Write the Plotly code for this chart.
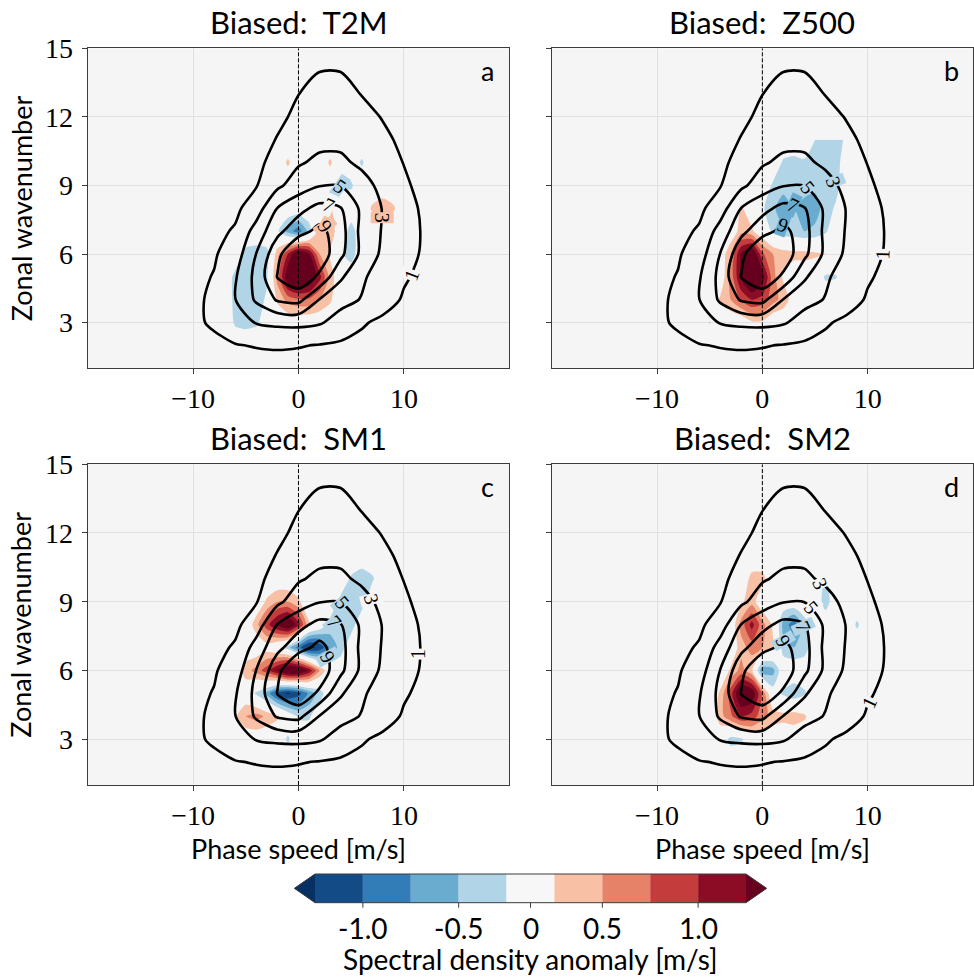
import math
import plotly.graph_objects as go

# ---------------- data ----------------
# climatological spectral density (black contours), rows = wavenumber 1..15
clim_phase_speed = [-14, -12, -10, -8, -6, -4, -2, 0, 2, 4, 6, 8, 10, 12, 14, 16]
clim_wavenumber = list(range(1, 16))
clim_density = [
    [0, 0, 0, 0.1, 0.2, 0.2, 0.2, 0.2, 0.2, 0.1, 0.1, 0, 0, 0, 0, 0],
    [0, 0, 0.2, 0.5, 0.9, 1.1, 1.2, 1.1, 0.9, 0.7, 0.5, 0.3, 0.2, 0.1, 0, 0],
    [0, 0.2, 0.6, 1.3, 2.2, 3.1, 3.4, 3.5, 3.2, 2.2, 1.2, 0.6, 0.3, 0.1, 0, 0],
    [0, 0.2, 0.45, 1.5, 2.95, 5.3, 7.2, 7.6, 4.9, 3.6, 2.9, 1.8, 0.8, 0.3, 0.1, 0],
    [0, 0.2, 0.5, 1.1, 2.8, 5.6, 9.1, 10.5, 8.6, 5.3, 3.3, 2.1, 1.2, 0.53, 0.2, 0],
    [0, 0.1, 0.4, 0.8, 2.0, 5.05, 8.4, 11.4, 10.3, 7.5, 4.5, 2.6, 1.6, 0.75, 0.3, 0.1],
    [0, 0.1, 0.2, 0.5, 1.2, 3.8, 6.5, 8.2, 9.6, 7.8, 4.4, 2.85, 1.7, 0.8, 0.3, 0.1],
    [0, 0, 0.1, 0.3, 0.6, 2.0, 5.05, 6.4, 7.6, 7.1, 4.6, 2.9, 1.8, 0.6, 0.2, 0],
    [0, 0, 0, 0.1, 0.2, 0.9, 2.6, 4.0, 4.9, 4.95, 3.8, 2.4, 1.3, 0.4, 0.1, 0],
    [0, 0, 0, 0, 0.1, 0.6, 1.6, 2.8, 3.4, 3.4, 2.6, 1.8, 0.95, 0.3, 0, 0],
    [0, 0, 0, 0, 0, 0.2, 1.1, 1.9, 2.5, 2.5, 2.0, 1.4, 0.6, 0.1, 0, 0],
    [0, 0, 0, 0, 0, 0, 0.6, 1.4, 1.9, 1.9, 1.6, 0.9, 0.3, 0, 0, 0],
    [0, 0, 0, 0, 0, 0, 0.3, 0.98, 1.5, 1.5, 0.95, 0.4, 0.1, 0, 0, 0],
    [0, 0, 0, 0, 0, 0, 0.1, 0.5, 0.98, 0.98, 0.6, 0.2, 0, 0, 0, 0],
    [0, 0, 0, 0, 0, 0, 0, 0.2, 0.4, 0.4, 0.3, 0.1, 0, 0, 0, 0],
]

# anomalies (filled contours), rows = wavenumber 2..11, columns = phase speed -8..10
anom_phase_speed = list(range(-8, 11))
anom_wavenumber = list(range(2, 12))

anom_t2m = [
    [0, 0, 0, 0, 0, 0, 0, 0, 0, 0, 0, 0, 0, 0, 0, 0, 0, 0, 0],
    [0, 0, -0.3, -0.35, -0.3, -0.1, 0, 0, 0, 0, 0, 0, 0, 0, 0, 0, 0, 0, 0],
    [0, 0, -0.35, -0.45, -0.4, -0.2, 0.3, 0.6, 0.7, 0.7, 0.5, 0.3, 0, 0, 0, 0, 0, 0, 0],
    [0, 0, -0.35, -0.4, -0.4, -0.3, 0.6, 1.5, 1.8, 1.6, 1.1, 0.4, 0, 0, 0, 0, 0, 0, 0],
    [0, 0, 0, -0.35, -0.4, -0.35, 0.4, 1.0, 1.6, 1.3, 0.5, 0.2, -0.2, -0.4, 0, 0, 0, 0, 0],
    [0, 0, 0, 0, 0, 0, -0.2, -0.6, -0.9, -0.4, 0.35, 0.45, 0, -0.4, 0, 0, 0, 0, 0],
    [0, 0, 0, 0, 0, 0, 0, 0, 0, 0, 0, 0.3, 0, 0, 0, 0.3, 0.45, 0.3, 0],
    [0, 0, 0, 0, 0, 0, 0, 0, 0, 0, 0, 0, -0.3, -0.3, 0, 0, 0, 0, 0],
    [0, 0, 0, 0, 0, 0, 0, 0.3, 0, 0, 0, 0.3, 0, 0, -0.3, 0, 0, 0, 0],
    [0, 0, 0, 0, 0, 0, 0, 0, 0, 0, 0, 0, 0, 0, 0, 0, 0, 0, 0],
]
anom_z500 = [
    [0, 0, 0, 0, 0, 0, 0, 0, 0, 0, 0, 0, 0, 0, 0, 0, 0, 0, 0],
    [0, 0, 0, -0.27, 0, 0, 0, 0.2, 0.2, 0, 0, 0, 0, 0, 0, 0, 0, 0, 0],
    [0, 0, 0, 0, 0.3, 0.5, 0.8, 1.0, 0.9, 0.6, 0.4, 0.1, 0, 0, 0, 0, 0, 0, 0],
    [0, 0, 0, 0, 0, 0.6, 1.3, 1.8, 1.4, 0.6, 0.2, 0, 0, 0, -0.3, -0.27, 0, 0, 0],
    [0, 0, 0, 0, 0, 0.5, 1.3, 1.6, 0.8, 0.5, 0.4, 0.35, 0.35, 0.3, 0.27, 0, 0, 0, 0],
    [0, 0, 0, 0, 0, 0, 0.4, 0.3, 0, -0.3, -0.45, -0.45, -0.5, -0.45, -0.3, 0, 0, 0, 0],
    [0, 0, 0, 0, 0, 0, 0.3, 0, -0.2, -0.45, -0.65, -0.5, -0.6, -0.6, -0.4, -0.2, 0, 0, 0],
    [0, 0, 0, 0, 0, 0, 0, 0, 0, -0.3, -0.4, -0.45, -0.4, -0.45, -0.45, -0.35, 0, 0, 0],
    [0, 0, 0, 0, 0, 0, 0, 0, 0, 0, -0.3, -0.35, -0.3, -0.35, -0.45, -0.4, 0, 0, 0],
    [0, 0, 0, 0, 0, 0, 0, 0, 0, 0, 0, 0, 0, -0.25, -0.35, -0.35, -0.2, 0, 0],
]
anom_sm1 = [
    [0, 0, 0, 0, 0, 0, 0, 0, 0, 0, 0, 0, 0, 0, 0, 0, 0, 0, 0],
    [0, 0, 0, 0, 0, 0, 0, -0.3, 0, 0, 0, 0, 0, 0, 0, 0, 0, 0, 0],
    [0, 0, 0.2, 0.5, 0.6, 0.45, 0.3, 0, -0.3, -0.3, 0, 0, 0, 0, 0, 0, 0, 0, 0],
    [0, 0, 0, 0, -0.3, -0.6, -1.1, -1.3, -1.1, -0.7, -0.4, 0, 0, 0, 0, 0, 0, 0, 0],
    [0, 0, 0, 0.4, 0.6, 0.9, 1.3, 1.7, 1.6, 1.2, 0.5, 0, 0, 0, 0, 0, 0, 0, 0],
    [0, 0, 0, 0, 0, 0.1, -0.1, -0.4, -0.9, -1.35, -1.2, -0.7, -0.4, 0, 0, 0, 0, 0, 0],
    [0, 0, 0, 0, 0.4, 0.9, 1.3, 1.6, 1.1, 0.3, 0, -0.35, -0.5, -0.4, 0, 0, 0, 0, 0],
    [0, 0, 0, 0, 0, 0.3, 0.5, 0.5, 0.3, 0, 0, 0, -0.35, -0.45, -0.4, 0, 0, 0, 0],
    [0, 0, 0, 0, 0, 0, 0, 0, 0, 0, 0, 0, 0, -0.3, -0.45, -0.3, 0, 0, 0],
    [0, 0, 0, 0, 0, 0, 0, 0, 0, 0, 0, 0, 0, 0, 0, 0, 0, 0, 0],
]
anom_sm2 = [
    [0, 0, 0, 0, 0, 0, 0, 0, 0, 0, 0, 0, 0, 0, 0, 0, 0, 0, 0],
    [0, 0, 0, 0, 0, -0.35, -0.3, 0, 0, 0, 0, 0, 0, 0, 0, 0, 0, 0, 0],
    [0, 0, 0, 0, 0.4, 0.7, 1.0, 0.9, 0.6, 0.4, 0.35, 0.4, 0.3, 0, 0, 0, 0, 0, 0],
    [0, 0, 0, 0, 0.3, 0.9, 1.6, 1.5, 0.7, -0.1, -0.3, -0.45, -0.3, 0, 0, 0, 0, 0, 0],
    [0, 0, 0, 0, 0, 0.3, 0.6, 0.3, -0.7, -0.6, 0, 0, 0, 0, 0, 0, 0, 0, 0],
    [0, 0, 0, 0, 0, 0, 0.4, 0.6, 0.5, 0.3, -0.4, -0.5, -0.4, 0, 0, 0, 0, 0, 0],
    [0, 0, 0, 0, 0, 0, 0.6, 1.1, 0.6, 0.2, -0.6, -0.9, -0.4, 0, 0, 0, 0, -0.3, 0],
    [0, 0, 0, 0, 0, 0, 0.2, 0.4, 0, 0, 0, 0, 0, 0, -0.4, 0, 0, 0, 0],
    [0, 0, 0, 0, 0, 0, 0, 0.35, 0.35, 0, 0, 0, 0, 0, -0.3, 0, 0, 0, 0],
    [0, 0, 0, 0, 0, 0, 0, 0, 0, 0, 0, 0, 0, 0, 0, 0, 0, 0, 0],
]

panel_anoms = [anom_t2m, anom_z500, anom_sm1, anom_sm2]
panel_titles = ["Biased:  T2M", "Biased:  Z500", "Biased:  SM1", "Biased:  SM2"]
panel_letters = ["a", "b", "c", "d"]

clim_levels = [1, 3, 5, 7, 9]
# inline contour labels per panel: (level, phase speed, wavenumber, text angle)
clim_labels = [
    [(1, 10.7, 5.1, -69), (3, 7.9, 7.6, 90), (5, 3.9, 8.98, 35), (7, 2.9, 8.16, 25), (9, 2.5, 7.22, 55)],
    [(1, 11.4, 6.0, -88), (3, 6.8, 9.17, 70), (5, 4.3, 8.93, 50), (7, 2.9, 8.15, 25), (9, 2.0, 7.28, 20)],
    [(1, 11.4, 6.7, -90), (3, 6.9, 9.1, 75), (5, 4.1, 8.97, 50), (7, 3.4, 8.1, 50), (9, 2.8, 6.6, 60)],
    [(1, 10.1, 4.6, -65), (3, 5.45, 9.8, 65), (5, 4.6, 8.75, 50), (7, 3.9, 7.9, 65), (9, 2.0, 7.28, 60)],
]

anom_levels = [-1.25, -1.0, -0.75, -0.5, -0.25, 0.25, 0.5, 0.75, 1.0, 1.25]
# colours: under, 9 bands, over
anom_colors = ["#053061", "#134b86", "#327cb7", "#6aacd0", "#b1d5e7", "#f7f7f7",
               "#f8c0a4", "#e58267", "#c43c3c", "#8c0c25", "#67001f"]
cbar_tickvals = [-1.0, -0.5, 0, 0.5, 1.0]
cbar_ticktext = ["-1.0", "-0.5", "0", "0.5", "1.0"]

x_tickvals = [-10, 0, 10]
x_ticktext = ["\u221210", "0", "10"]
y_tickvals = [3, 6, 9, 12, 15]

# ---------------- styling ----------------
SANS = "Lato"
SERIF = "Liberation Serif"
BG = "#f5f5f5"
FRAME = "#3c3c3c"

x_domains = [[0.0900, 0.5229], [0.5664, 0.9990]]
y_domains = [[0.6234, 0.9506], [0.1973, 0.5253]]


def anom_value_at(grid, px, py):
    """bilinear look-up of the anomaly grid (used to colour label backgrounds)"""
    fx = px - anom_phase_speed[0]
    fy = py - anom_wavenumber[0]
    i0 = min(max(int(math.floor(fx)), 0), len(anom_phase_speed) - 2)
    j0 = min(max(int(math.floor(fy)), 0), len(anom_wavenumber) - 2)
    tx, ty = fx - i0, fy - j0
    if not (0 <= tx <= 1 and 0 <= ty <= 1):
        return 0.0
    return ((1 - tx) * (1 - ty) * grid[j0][i0] + tx * (1 - ty) * grid[j0][i0 + 1]
            + (1 - tx) * ty * grid[j0 + 1][i0] + tx * ty * grid[j0 + 1][i0 + 1])


def band_color(v):
    if -0.25 < v < 0.25:
        return BG
    if v <= anom_levels[0]:
        return anom_colors[0]
    if v >= anom_levels[-1]:
        return anom_colors[-1]
    for j in range(len(anom_levels) - 1):
        if anom_levels[j] <= v < anom_levels[j + 1]:
            return anom_colors[j + 1]
    return BG


fig = go.Figure()
layout = dict(
    width=974, height=978,
    margin=dict(l=0, r=0, t=0, b=0, autoexpand=False),
    paper_bgcolor="white",
    plot_bgcolor=BG,
    showlegend=False,
)
annotations = []
shapes = []

# threshold -> colour of everything beyond it (painted in order so deeper bands cover shallower)
pos_thresholds = [(anom_levels[k], anom_colors[k + 1]) for k in range(5, 10)]
neg_thresholds = [(anom_levels[k], anom_colors[k]) for k in range(4, -1, -1)]

for i in range(4):
    r, c = divmod(i, 2)
    n = "" if i == 0 else str(i + 1)
    xa, ya = "x" + n, "y" + n
    for lev, col in pos_thresholds:
        fig.add_trace(go.Contour(
            x=anom_phase_speed, y=anom_wavenumber, z=panel_anoms[i],
            xaxis=xa, yaxis=ya,
            contours=dict(type="constraint", operation="<", value=lev),
            fillcolor=col, line=dict(width=0, smoothing=0.6),
            showscale=False, hoverinfo="skip",
        ))
    for lev, col in neg_thresholds:
        fig.add_trace(go.Contour(
            x=anom_phase_speed, y=anom_wavenumber, z=panel_anoms[i],
            xaxis=xa, yaxis=ya,
            contours=dict(type="constraint", operation=">", value=lev),
            fillcolor=col, line=dict(width=0, smoothing=0.6),
            showscale=False, hoverinfo="skip",
        ))
    fig.add_trace(go.Scatter(
        x=[0, 0], y=[1, 15], xaxis=xa, yaxis=ya, mode="lines",
        line=dict(color="black", width=1, dash="4px,2px"), hoverinfo="skip",
    ))
    fig.add_trace(go.Contour(
        x=clim_phase_speed, y=clim_wavenumber, z=clim_density,
        xaxis=xa, yaxis=ya,
        autocontour=False,
        contours=dict(start=clim_levels[0], end=clim_levels[-1], size=2,
                      coloring="none", showlabels=False),
        line=dict(color="black", width=2.6, smoothing=0.8),
        showscale=False, hoverinfo="skip",
    ))
    for lev, lx, ly, ang in clim_labels[i]:
        annotations.append(dict(
            text=str(lev), x=lx, y=ly, xref=xa, yref=ya, showarrow=False,
            textangle=ang, bgcolor=band_color(anom_value_at(panel_anoms[i], lx, ly)),
            borderpad=0,
            font=dict(family=SERIF, size=20, color="black"),
        ))
    common = dict(
        tickfont=dict(family=SERIF, size=28, color="black"),
        ticks="outside", ticklen=5, tickcolor=FRAME, tickwidth=1,
        showline=True, linecolor=FRAME, linewidth=1, mirror=True,
        showgrid=True, gridcolor="#e0e0e0", gridwidth=1,
        zeroline=False, automargin=False,
    )
    layout["xaxis" + n] = dict(
        domain=x_domains[c], anchor=ya, range=[-20, 20],
        tickvals=x_tickvals, ticktext=x_ticktext, ticklabelstandoff=0, **common,
    )
    layout["yaxis" + n] = dict(
        domain=y_domains[r], anchor=xa, range=[1, 15],
        tickvals=y_tickvals, showticklabels=(c == 0), ticklabelstandoff=3, **common,
    )
    annotations.append(dict(
        text=panel_titles[i], xref=xa + " domain", yref="paper",
        x=0.5, y=y_domains[r][1] + 0.0265, xanchor="center", yanchor="middle",
        showarrow=False, font=dict(family=SANS, size=31, color="black"),
    ))
    annotations.append(dict(
        text=panel_letters[i], xref=xa + " domain", yref=ya + " domain",
        x=0.948, y=0.932, xanchor="center", yanchor="middle",
        showarrow=False, font=dict(family=SANS, size=27, color="black"),
    ))
    if c == 0:
        annotations.append(dict(
            text="Zonal wavenumber", xref="paper", yref=ya + " domain",
            x=0.0216, y=0.5, xanchor="center", yanchor="middle", textangle=-90,
            showarrow=False, font=dict(family=SANS, size=27, color="black"),
        ))
    if r == 1:
        annotations.append(dict(
            text="Phase speed [m/s]", xref=xa + " domain", yref="paper",
            x=0.5, y=1 - 848 / 978, xanchor="center", yanchor="middle",
            showarrow=False, font=dict(family=SANS, size=27, color="black"),
        ))

# ---------------- colour bar (drawn manually, with extend triangles) ----------------
W, H = 974.0, 978.0
cb_left, cb_right = 315 / W, 746 / W
cb_bot, cb_top = 1 - 902.7 / H, 1 - 874 / H
tip_l, tip_r = 294.3 / W, 766.7 / W
cb_mid = 0.5 * (cb_bot + cb_top)
nblocks = len(anom_levels) - 1
bw = (cb_right - cb_left) / nblocks
for j in range(nblocks):
    shapes.append(dict(type="rect", xref="paper", yref="paper",
                       x0=cb_left + j * bw, x1=cb_left + (j + 1) * bw,
                       y0=cb_bot, y1=cb_top, fillcolor=anom_colors[j + 1],
                       line=dict(width=0), layer="above"))
shapes.append(dict(type="path", xref="paper", yref="paper",
                   path=f"M {cb_left},{cb_bot} L {tip_l},{cb_mid} L {cb_left},{cb_top} Z",
                   fillcolor=anom_colors[0], line=dict(width=0), layer="above"))
shapes.append(dict(type="path", xref="paper", yref="paper",
                   path=f"M {cb_right},{cb_bot} L {tip_r},{cb_mid} L {cb_right},{cb_top} Z",
                   fillcolor=anom_colors[-1], line=dict(width=0), layer="above"))
shapes.append(dict(type="path", xref="paper", yref="paper",
                   path=(f"M {tip_l},{cb_mid} L {cb_left},{cb_top} L {cb_right},{cb_top} "
                         f"L {tip_r},{cb_mid} L {cb_right},{cb_bot} L {cb_left},{cb_bot} Z"),
                   line=dict(color=FRAME, width=1), layer="above"))


def level_to_cbx(v):
    # uniform spacing: each band between anom_levels has the same width
    for j in range(nblocks):
        a, b = anom_levels[j], anom_levels[j + 1]
        if a <= v <= b:
            return cb_left + (j + (v - a) / (b - a)) * bw
    return None


tick_len = 5 / H
for v, t in zip(cbar_tickvals, cbar_ticktext):
    xx = level_to_cbx(v)
    shapes.append(dict(type="line", xref="paper", yref="paper",
                       x0=xx, x1=xx, y0=cb_bot, y1=cb_bot - tick_len,
                       line=dict(color=FRAME, width=1), layer="above"))
    annotations.append(dict(text=t, xref="paper", yref="paper", x=xx, y=1 - 928 / H,
                            xanchor="center", yanchor="middle", showarrow=False,
                            font=dict(family=SANS, size=28, color="black")))
annotations.append(dict(text="Spectral density anomaly [m/s]", xref="paper", yref="paper",
                        x=0.5 * (cb_left + cb_right), y=0.0,
                        xanchor="center", yanchor="bottom", showarrow=False,
                        font=dict(family=SANS, size=28, color="black")))

layout["annotations"] = annotations
layout["shapes"] = shapes
fig.update_layout(**layout)
fig.write_html("out.html")
